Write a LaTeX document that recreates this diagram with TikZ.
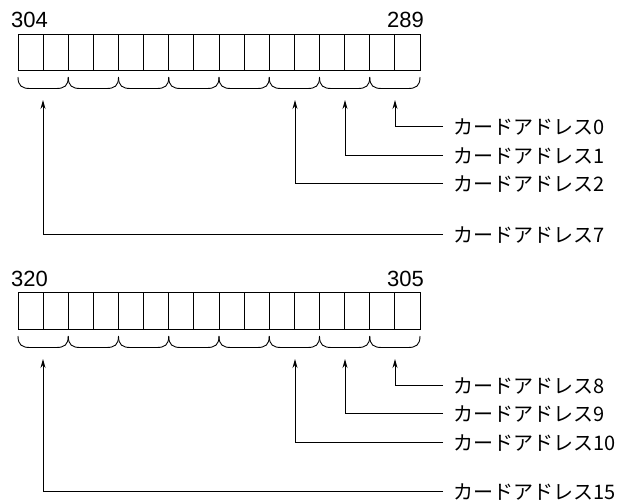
\documentclass[tikz,border=0pt]{standalone}
\usepackage{fontspec}
\newfontfamily\jpfont{Noto Sans CJK JP}
\newfontfamily\numfont{Liberation Sans}
\usetikzlibrary{arrows.meta}
\newcommand\regdraw[2]{%
  \foreach \k in {0,...,15}
    \draw[cellline] (18+25.125*\k,#1) rectangle ++(25.125,#2-#1);
  \foreach \k in {0,...,7} {
    \pgfmathsetmacro\xa{18+50.25*\k}
    \pgfmathsetmacro\xb{\xa+50.25}
    \draw[braceline] (\xa,#2+7) .. controls (\xa,#2+16) and (\xa+4,#2+18.5) .. (\xa+12,#2+18.5)
      -- (\xb-12,#2+18.5) .. controls (\xb-4,#2+18.5) and (\xb,#2+16) .. (\xb,#2+7);
  }%
}
\begin{document}
\begin{tikzpicture}[x=1pt,y=-1pt,
  cellline/.style={draw, line width=0.9pt},
  braceline/.style={draw, line width=0.9pt},
  conn/.style={draw, line width=0.9pt, -{Stealth[length=9pt,width=5pt]}},
  lbl/.style={anchor=west, inner xsep=10pt, inner ysep=0pt, text height=17pt, text depth=0pt,
    font=\jpfont\fontsize{20}{24}\selectfont},
  numlbl/.style={inner sep=0pt, font=\numfont\fontsize{22}{26}\selectfont}]
\useasboundingbox (0,0) rectangle (633,501);

% ---------- upper register ----------
\node[numlbl, anchor=base west] (n304) at (11,27.5) {304};
\node[numlbl, anchor=base east] (n289) at (424,27.5) {289};
\regdraw{34}{70}
\coordinate (t0) at (395,100);
\coordinate (t1) at (345,100);
\coordinate (t2) at (295,100);
\coordinate (t7) at (43,100);
\node[lbl] (L0) at (443,126) {カードアドレス0};
\node[lbl] (L1) at (443,155) {カードアドレス1};
\node[lbl] (L2) at (443,183) {カードアドレス2};
\node[lbl] (L7) at (443,234) {カードアドレス7};
\draw[conn] (L0.west) -| (t0);
\draw[conn] (L1.west) -| (t1);
\draw[conn] (L2.west) -| (t2);
\draw[conn] (L7.west) -| (t7);

% ---------- lower register ----------
\node[numlbl, anchor=base west] (n320) at (11,286) {320};
\node[numlbl, anchor=base east] (n305) at (424,286) {305};
\regdraw{292}{329}
\coordinate (t8) at (395,359);
\coordinate (t9) at (345,359);
\coordinate (t10) at (295,359);
\coordinate (t15) at (43,359);
\node[lbl] (L8) at (443,385) {カードアドレス8};
\node[lbl] (L9) at (443,413) {カードアドレス9};
\node[lbl] (L10) at (443,442) {カードアドレス10};
\node[lbl] (L15) at (443,491) {カードアドレス15};
\draw[conn] (L8.west) -| (t8);
\draw[conn] (L9.west) -| (t9);
\draw[conn] (L10.west) -| (t10);
\draw[conn] (L15.west) -| (t15);
\end{tikzpicture}
\end{document}
